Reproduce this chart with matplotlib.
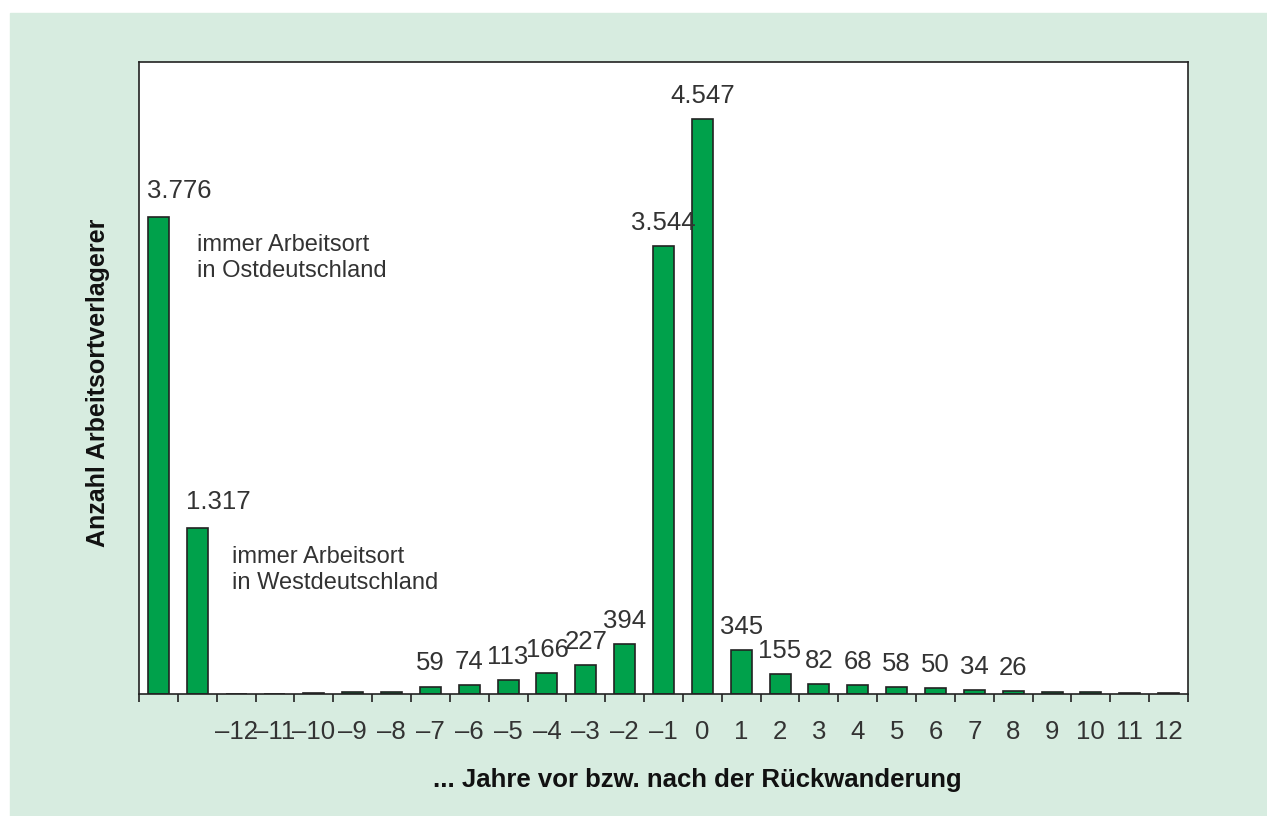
import numpy as np
import matplotlib.pyplot as plt

plt.rcParams['font.family'] = ['Liberation Sans', 'DejaVu Sans']

# categories: two special groups, then years -12 .. 12
years = list(range(-12, 13))
year_labels = [str(y).replace('-', '\u2013') for y in years]
special_values = [3776, 1317]
year_values = [0, 3, 10, 15, 15, 59, 74, 113, 166, 227, 394, 3544, 4547,
               345, 155, 82, 68, 58, 50, 34, 26, 12, 12, 8, 4]
shown_labels = {'-7': '59', '-6': '74', '-5': '113', '-4': '166', '-3': '227',
                '-2': '394', '-1': '3.544', '0': '4.547', '1': '345', '2': '155',
                '3': '82', '4': '68', '5': '58', '6': '50', '7': '34', '8': '26'}

values = special_values + year_values
x = np.arange(len(values))

bg = '#d7ece0'
bar_col = '#00a14b'
txt = '#333333'
fs = 18.5

fig = plt.figure(figsize=(12.67, 8.16), dpi=100)
fig.patches.append(plt.Rectangle((10 / 1267, 0), 1, 1 - 13 / 816,
                                 transform=fig.transFigure, color=bg, zorder=-1))
ax = fig.add_axes([139 / 1267, 1 - 694 / 816, (1188 - 139) / 1267, (694 - 62) / 816])

ax.bar(x, values, width=0.54, color=bar_col, edgecolor='#222222', linewidth=1.2)

ax.set_xlim(-0.5, len(values) - 0.5)
ax.set_ylim(0, 5000)
ax.set_yticks([])

# boundary ticks without labels, labels under bar centres
ax.set_xticks(np.arange(-0.5, len(values), 1))
ax.set_xticklabels([])
ax.tick_params(axis='x', which='major', direction='out', length=6, width=1.2, color='#222222')
ax.set_xticks(x[2:], minor=True)
ax.set_xticklabels(year_labels, minor=True, fontsize=fs, color=txt)
ax.tick_params(axis='x', which='minor', length=0, pad=19)

for s in ax.spines.values():
    s.set_color('#222222')
    s.set_linewidth(1.2)

# value labels
ax.annotate('3.776', (x[0] - 0.3, values[0]), xytext=(0, 10), textcoords='offset points',
            ha='left', va='bottom', fontsize=fs, color=txt)
ax.annotate('1.317', (x[1] - 0.3, values[1]), xytext=(0, 10), textcoords='offset points',
            ha='left', va='bottom', fontsize=fs, color=txt)
for i, y in enumerate(years):
    lab = shown_labels.get(str(y))
    if lab:
        ax.annotate(lab, (x[i + 2], year_values[i]), xytext=(0, 8), textcoords='offset points',
                    ha='center', va='bottom', fontsize=fs, color=txt)

ax.text(1.0, 3640, 'immer Arbeitsort\nin Ostdeutschland', fontsize=17, color=txt,
        va='top', ha='left', linespacing=1.25)
ax.text(1.9, 1170, 'immer Arbeitsort\nin Westdeutschland', fontsize=17, color=txt,
        va='top', ha='left', linespacing=1.25)

fig.text(697 / 1267, 1 - 780 / 816, '... Jahre vor bzw. nach der Rückwanderung',
         ha='center', va='center', fontsize=18.5, fontweight='bold', color='#111111')
fig.text(98 / 1267, 1 - 383 / 816, 'Anzahl Arbeitsortverlagerer', rotation=90,
         ha='center', va='center', fontsize=18, fontweight='bold', color='#111111')

fig.savefig('out.png', dpi=100, facecolor='white')
